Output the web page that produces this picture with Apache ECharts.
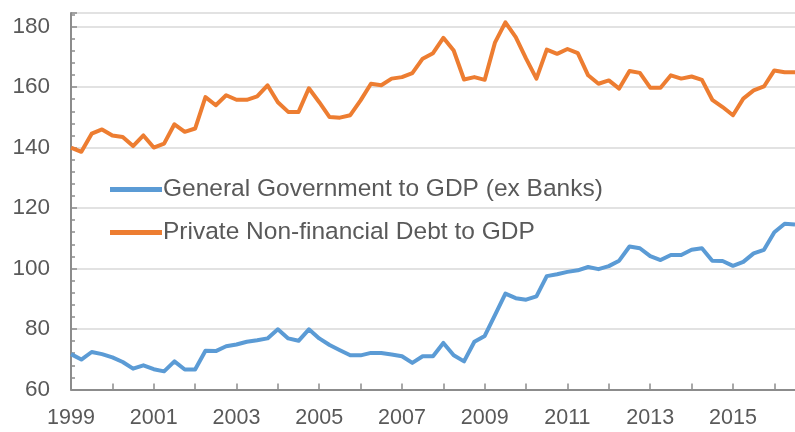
<!DOCTYPE html>
<html>
<head>
<meta charset="utf-8">
<script src="https://cdn.jsdelivr.net/npm/echarts@6/dist/echarts.min.js"></script>
<style>
  html, body { margin: 0; padding: 0; background: #fff; }
  #chart { width: 795px; height: 432px; }
</style>
</head>
<body>
<div id="chart"></div>
<script>
// quarterly, 1999Q1 .. 2016Q3
var startYear = 1999;
var quarters = [];
for (var i = 0; i < 71; i++) {
  quarters.push(startYear + i / 4);
}

var govDebt = [
  71.7, 69.9, 72.4, 71.7, 70.6, 69.1, 66.9, 68, 66.7, 66,
  69.3, 66.6, 66.6, 72.8, 72.7, 74.3, 74.9, 75.8, 76.3, 76.9,
  79.9, 76.9, 76.1, 79.9, 76.9, 74.7, 73, 71.3, 71.3, 72.1,
  72.1, 71.6, 71, 68.8, 71, 71, 75.4, 71.3, 69.3, 75.8,
  77.7, 84.7, 91.7, 90.2, 89.7, 90.8, 97.5, 98.1, 98.9, 99.4,
  100.5, 99.8, 100.8, 102.6, 107.3, 106.7, 104.1, 102.8, 104.5, 104.5,
  106.2, 106.7, 102.6, 102.5, 100.9, 102.2, 105, 106.2, 112, 114.8,
  114.6
];

var privateDebt = [
  140, 138.6, 144.6, 146, 144, 143.5, 140.5, 144, 140, 141.3,
  147.7, 145.2, 146.3, 156.7, 154, 157.3, 155.8, 155.8, 156.9, 160.6,
  155, 151.8, 151.8, 159.6, 155, 150.1, 149.9, 150.7, 155.6, 161.1,
  160.6, 162.8, 163.3, 164.6, 169.4, 171.2, 176.3, 172.1, 162.5, 163.3,
  162.4, 174.8, 181.4, 176.5, 169.4, 162.8, 172.4, 171, 172.6, 171.2,
  163.9, 161.1, 162.2, 159.5, 165.3, 164.7, 159.8, 159.8, 163.9, 162.8,
  163.5, 162.4, 155.8, 153.4, 150.7, 156.2, 158.9, 160.2, 165.5, 164.9,
  164.9
];

var seriesNames = ['General Government to GDP (ex Banks)', 'Private Non-financial Debt to GDP'];

function pairs(vals) {
  return vals.map(function (v, i) { return [quarters[i], v]; });
}

var chart = echarts.init(document.getElementById('chart'));
var textColor = '#595959';
var axisColor = '#8c8c8c';

chart.setOption({
  animation: false,
  textStyle: { fontFamily: 'Liberation Sans, Arial, sans-serif' },
  grid: { left: 71, right: 0, top: 13, bottom: 42.5, containLabel: false },
  legend: {
    orient: 'vertical',
    left: 105,
    top: 172,
    itemGap: 18,
    itemWidth: 52,
    itemHeight: 5,
    icon: 'rect',
    textStyle: { fontSize: 24.5, color: textColor, padding: [0, 0, 0, -4] },
    data: seriesNames
  },
  xAxis: {
    type: 'value',
    min: 1999,
    max: 2016.5,
    interval: 1,
    axisLine: { lineStyle: { color: axisColor, width: 2 } },
    axisTick: { inside: true, length: 6, lineStyle: { color: axisColor, width: 1.5 } },
    axisLabel: {
      fontSize: 21.5,
      color: textColor,
      margin: 18,
      showMaxLabel: false,
      formatter: function (v) { return (v % 2 === 1) ? String(v) : ''; }
    },
    splitLine: { show: false }
  },
  yAxis: {
    type: 'value',
    min: 60,
    max: 184.5,
    interval: 20,
    axisLine: { show: true, lineStyle: { color: axisColor, width: 2 } },
    axisTick: { show: true, inside: true, length: 6, lineStyle: { color: axisColor, width: 1.5 } },
    minorTick: { show: true, splitNumber: 5, length: 4, lineStyle: { color: axisColor, width: 1.5 } },
    axisLabel: {
      fontSize: 22.5,
      color: textColor,
      margin: 21,
      showMaxLabel: false
    },
    splitLine: { lineStyle: { color: '#d9d9d9', width: 1.5 } }
  },
  series: [
    {
      name: seriesNames[0],
      type: 'line',
      data: pairs(govDebt),
      showSymbol: false,
      lineStyle: { color: '#5b9bd5', width: 4, join: 'round' },
      itemStyle: { color: '#5b9bd5' }
    },
    {
      name: seriesNames[1],
      type: 'line',
      data: pairs(privateDebt),
      showSymbol: false,
      lineStyle: { color: '#ed7d31', width: 4, join: 'round' },
      itemStyle: { color: '#ed7d31' }
    }
  ]
});
</script>
</body>
</html>
